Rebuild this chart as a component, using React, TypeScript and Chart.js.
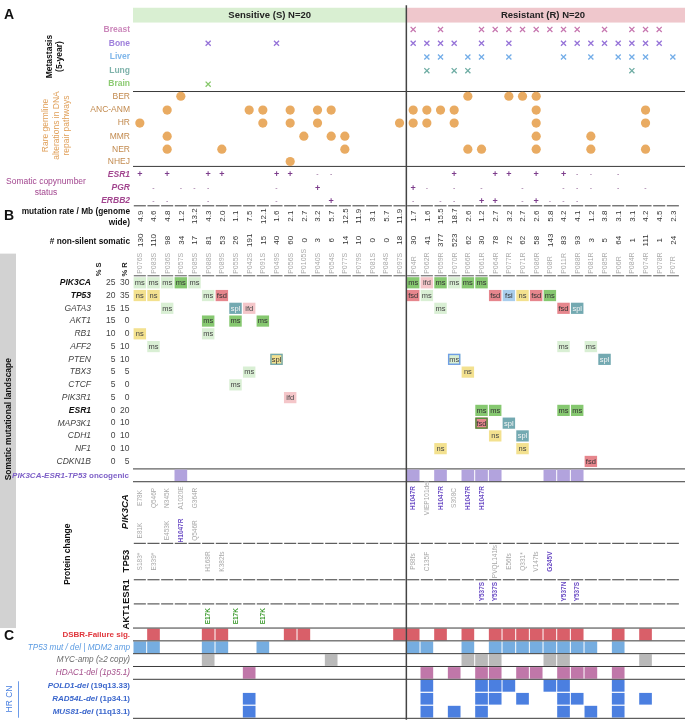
import React, { useEffect, useRef } from "react";
import { Chart, registerables } from "chart.js";
Chart.register(...registerables);

// ---------------- data ----------------
const sensitiveIds = ["P076S","P083S","P036S","P057S","P085S","P088S","P089S","P055S","P042S","P091S","P049S","P056S","P0105S","P040S","P054S","P077S","P079S","P081S","P084S","P097S"];
const resistantIds = ["P04R","P062R","P059R","P070R","P066R","P061R","P064R","P077R","P071R","P086R","P08R","P011R","P088R","P081R","P085R","P06R","P084R","P074R","P078R","P07R"];
const sampleIds = [...sensitiveIds, ...resistantIds];

const metastasisSites = ["Breast", "Bone", "Liver", "Lung", "Brain"];
const metBreast = [20,22,25,26,27,28,29,30,31,32,34,36,37,38];
const metBone = [5,10,20,21,22,23,25,27,31,32,33,34,35,36,37,38];
const metLiver = [21,22,24,25,27,31,33,35,36,37,39];
const metLung = [21,23,24,36];
const metBrain = [5];
const metastasisCols = [metBreast, metBone, metLiver, metLung, metBrain];

const germlinePathways = ["BER", "ANC-ANM", "HR", "MMR", "NER", "NHEJ"];
const germBER = [3,24,27,28,29];
const germANC = [2,8,9,11,13,14,20,21,22,23,29,37];
const germHR = [0,9,11,13,19,20,21,23,29,37];
const germMMR = [2,12,14,15,29,33];
const germNER = [2,6,15,24,25,29,33,37];
const germNHEJ = [11];
const germlineCols = [germBER, germANC, germHR, germMMR, germNER, germNHEJ];

const cnGenes = ["ESR1", "PGR", "ERBB2"];
const cnESR1 = "+.+..++...++.--....." + "...+..++.+.+--.-....";
const cnPGR = ".-.---....-..+......" + "+-.-.-..-..---.-.-..";
const cnERBB2 = ".--..-....-...+....." + "-.--.++.-+---.......";
const cnStatus = [cnESR1, cnPGR, cnERBB2];

const mutationRate = [4.9,4.6,4.8,1.2,13.2,4.3,2.0,1.1,7.5,12.1,1.6,2.1,2.7,3.2,5.7,12.5,11.9,3.1,5.7,11.9,
  1.7,1.6,15.5,18.7,2.6,1.2,2.7,3.2,2.7,2.6,5.8,4.2,4.1,1.2,3.8,3.1,3.1,4.2,4.5,2.3];
const nonSilent = [130,110,98,34,17,81,53,26,191,15,40,60,0,3,6,14,10,0,0,18,
  30,41,377,523,62,30,78,72,62,58,143,83,93,3,5,64,1,111,1,24];

const genes = ["PIK3CA","TP53","GATA3","AKT1","RB1","AFF2","PTEN","TBX3","CTCF","PIK3R1","ESR1","MAP3K1","CDH1","NF1","CDKN1B"];
const boldGenes = ["PIK3CA","TP53","ESR1"];
const pctS = [25,20,15,15,10,5,5,5,5,5,0,0,0,0,0];
const pctR = [30,35,15,0,0,10,10,5,0,0,20,10,10,10,5];
type Mut = [number, string];
const mutPIK3CA: Mut[] = [[0,"msl"],[1,"msl"],[2,"msl"],[3,"msd"],[4,"msl"],[20,"msd"],[21,"ifd"],[22,"msd"],[23,"msl"],[24,"msd"],[25,"msd"]];
const mutTP53: Mut[] = [[0,"ns"],[1,"ns"],[5,"msl"],[6,"fsd"],[20,"fsd"],[21,"msl"],[26,"fsd"],[27,"fsi"],[28,"ns"],[29,"fsd"],[30,"msd"]];
const mutGATA3: Mut[] = [[2,"msl"],[7,"spl"],[8,"ifd"],[22,"msl"],[31,"fsd"],[32,"spl"]];
const mutAKT1: Mut[] = [[5,"msd"],[7,"msd"],[9,"msd"]];
const mutRB1: Mut[] = [[0,"ns"],[5,"msl"]];
const mutAFF2: Mut[] = [[1,"msl"],[31,"msl"],[33,"msl"]];
const mutPTEN: Mut[] = [[10,"nsspl"],[23,"msfsi"],[34,"spl"]];
const mutTBX3: Mut[] = [[8,"msl"],[24,"ns"]];
const mutCTCF: Mut[] = [[7,"msl"]];
const mutPIK3R1: Mut[] = [[11,"ifd"]];
const mutESR1: Mut[] = [[25,"msd"],[26,"msd"],[31,"msd"],[32,"msd"]];
const mutMAP3K1: Mut[] = [[25,"fsdms"],[27,"spl"]];
const mutCDH1: Mut[] = [[26,"ns"],[28,"spl"]];
const mutNF1: Mut[] = [[22,"ns"],[28,"ns"]];
const mutCDKN1B: Mut[] = [[33,"fsd"]];
const mutations = [mutPIK3CA,mutTP53,mutGATA3,mutAKT1,mutRB1,mutAFF2,mutPTEN,mutTBX3,mutCTCF,mutPIK3R1,mutESR1,mutMAP3K1,mutCDH1,mutNF1,mutCDKN1B];

const oncogenicCols = [3,20,22,24,25,26,30,31,32];

type Prot = [number, string];
const protPIK3CAupper: Prot[] = [[0,"E78K"],[1,"Q546P"],[2,"N345K"],[3,"A1020E"],[4,"G364R"],[20,"H1047R"],[21,"VIEP101del"],[22,"H1047R"],[23,"S308C"],[24,"H1047R"],[25,"H1047R"]];
const protPIK3CAlower: Prot[] = [[0,"E81K"],[2,"E453K"],[3,"H1047R"],[4,"Q546R"]];
const protTP53: Prot[] = [[0,"S183*"],[1,"E339*"],[5,"H168R"],[6,"K382fs"],[20,"P98fs"],[21,"C135F"],[26,"PVQL141fs"],[27,"E56fs"],[28,"Q331*"],[29,"V147fs"],[30,"G245V"]];
const protESR1: Prot[] = [[25,"Y537S"],[26,"Y537S"],[31,"Y537N"],[32,"Y537S"]];
const protAKT1: Prot[] = [[5,"E17K"],[7,"E17K"],[9,"E17K"]];
const hotspots = ["H1047R","G245V","Y537S","Y537N"];

const dsbrFailure = [1,5,6,11,12,19,20,22,24,26,27,28,29,30,31,32,35,37];
const tp53MutDel = [0,1,5,6,9,20,21,24,26,27,28,29,30,31,32,33,35];
const mycAmp = [5,14,24,25,26,30,31,37];
const hdac1Del = [8,21,23,25,26,28,29,31,32,33,35];
const pold1Del = [21,25,26,27,30,31,35];
const rad54lDel = [8,21,25,26,28,31,32,35,37];
const mus81Del = [8,21,23,25,31,33,35];
const cnaRows = [dsbrFailure, tp53MutDel, mycAmp, hdac1Del, pold1Del, rad54lDel, mus81Del];

// ---------------- layout & style ----------------
const FAM = "'Liberation Sans', Arial, sans-serif";
const fnt = (size: number, weight = "normal", style = "normal") => `${style} ${weight} ${size}px ${FAM}`;
const metColors = ["#c777b0", "#9673d8", "#73ade8", "#6fada4", "#86c76a"];
const metLabelColors = ["#cc88bb", "#9f80dc", "#7fb6ea", "#7fb3ab", "#8dcb73"];
const metY = [24.5, 38.5, 52.5, 66.3, 80];
const germY = [92.3, 106.3, 119.5, 132.8, 146, 158.5];
const cnY = [171.7, 185, 198.3];
const geneY0 = 281.6, geneStep = 12.95;
const cnaBounds = [632, 645, 658, 671, 684, 697.2, 710.3, 723.4];
const cnaColors = ["#d95f69", "#76ade0", "#b9b9b9", "#c077a9", "#4b7fe0", "#4b7fe0", "#4b7fe0"];
const mutStyle: Record<string, { fill: string; label: string; text: string; border?: string }> = {
  msl: { fill: "#d9efd4", label: "ms", text: "#444" },
  msd: { fill: "#86c870", label: "ms", text: "#333" },
  ns: { fill: "#f3e18f", label: "ns", text: "#444" },
  fsd: { fill: "#e6868d", label: "fsd", text: "#333" },
  ifd: { fill: "#f4c6c9", label: "ifd", text: "#444" },
  spl: { fill: "#73a9b1", label: "spl", text: "#f4f4f4" },
  fsi: { fill: "#a9cdec", label: "fsi", text: "#333" },
  nsspl: { fill: "#f3e18f", label: "spl", text: "#333", border: "#73a9b1" },
  msfsi: { fill: "#d9efd4", label: "ms", text: "#444", border: "#6f9fe6" },
  fsdms: { fill: "#e6868d", label: "fsd", text: "#333", border: "#4f8f3a" },
};

function txt(ctx: CanvasRenderingContext2D, s: string, x: number, y: number, font: string, color: string,
  align: CanvasTextAlign = "right", base: CanvasTextBaseline = "middle", rot = 0) {
  ctx.save();
  ctx.translate(x, y);
  if (rot) ctx.rotate(rot);
  ctx.font = font; ctx.fillStyle = color; ctx.textAlign = align; ctx.textBaseline = base;
  ctx.fillText(s, 0, 0);
  ctx.restore();
}
type Part = [string, string, string];
function rich(ctx: CanvasRenderingContext2D, parts: Part[], xRight: number, y: number) {
  const w = parts.map(([t, f]) => { ctx.font = f; return ctx.measureText(t).width; });
  let x = xRight - w.reduce((a, b) => a + b, 0);
  parts.forEach(([t, f, c], i) => { txt(ctx, t, x, y, f, c, "left"); x += w[i]; });
}

const drawPlugin = {
  id: "oncoprint",
  beforeDatasetsDraw(chart: any) {
    const ctx: CanvasRenderingContext2D = chart.ctx;
    const xs = chart.scales.x, ys = chart.scales.y;
    const L = (c: number) => xs.getPixelForValue(c);
    const M = (c: number) => xs.getPixelForValue(c + 0.5);
    const Y = (v: number) => ys.getPixelForValue(v);
    const gx0 = L(0), gMid = L(20), gx1 = L(40);
    const W = chart.width;
    const hline = (y: number, color = "#3a3a3a", w = 1, x0 = gx0, x1 = W) => {
      ctx.save(); ctx.strokeStyle = color; ctx.lineWidth = w; ctx.beginPath();
      ctx.moveTo(x0, Y(y)); ctx.lineTo(x1, Y(y)); ctx.stroke(); ctx.restore();
    };
    const segline = (y: number, color = "#3a3a3a", w = 1) => {
      ctx.save(); ctx.strokeStyle = color; ctx.lineWidth = w; ctx.beginPath();
      for (let c = 0; c < 40; c++) { ctx.moveTo(L(c) + 0.8, Y(y)); ctx.lineTo(L(c + 1) - 0.8, Y(y)); }
      ctx.stroke(); ctx.restore();
    };

    // header
    ctx.fillStyle = "#d9efd2"; ctx.fillRect(gx0, Y(2.5), gMid - gx0, Y(17.5) - Y(2.5));
    ctx.fillStyle = "#efc7cc"; ctx.fillRect(gMid, Y(2.5), W - gMid, Y(17.5) - Y(2.5));
    txt(ctx, "Sensitive (S) N=20", (gx0 + gMid) / 2, Y(10.5), fnt(9.5, "bold"), "#222", "center");
    txt(ctx, "Resistant (R) N=20", (gMid + gx1) / 2, Y(10.5), fnt(9.5, "bold"), "#222", "center");

    // panel letters
    txt(ctx, "A", 4, Y(10), fnt(14, "bold"), "#111", "left");
    txt(ctx, "B", 4, Y(214), fnt(14, "bold"), "#111", "left");
    txt(ctx, "C", 4, Y(640), fnt(14, "bold"), "#111", "left");

    // metastasis
    metastasisSites.forEach((s, i) => txt(ctx, s, 130, Y(metY[i]), fnt(8.5, "bold"), metLabelColors[i]));
    txt(ctx, "Metastasis", 50, Y(52), fnt(8.5, "bold"), "#111", "center", "middle", -Math.PI / 2);
    txt(ctx, "(5-year)", 60, Y(52), fnt(8.5, "bold"), "#111", "center", "middle", -Math.PI / 2);
    hline(87.5);

    // germline
    germlinePathways.forEach((s, i) => txt(ctx, s, 130, Y(germY[i]), fnt(8.5), "#c28a4e"));
    ["Rare germline", "alterations in DNA", "repair pathways"].forEach((s, i) =>
      txt(ctx, s, 46 + i * 10.5, Y(122), fnt(8.5), "#e0a05a", "center", "middle", -Math.PI / 2));
    hline(163.5);

    // copy number
    cnGenes.forEach((g, i) => {
      txt(ctx, g, 130, Y(cnY[i]), fnt(8.5, "bold", "italic"), "#a2468f");
      const st = cnStatus[i];
      for (let c = 0; c < 40; c++) {
        if (st[c] === "+") txt(ctx, "+", M(c), Y(cnY[i]) + 0.5, fnt(9, "bold"), "#7d3d8c", "center");
        else if (st[c] === "-") txt(ctx, "-", M(c), Y(cnY[i]), fnt(7), "#8a5a8f", "center");
      }
    });
    txt(ctx, "Somatic copynumber", 46, Y(179), fnt(8.5), "#a2468f", "center");
    txt(ctx, "status", 46, Y(190.5), fnt(8.5), "#a2468f", "center");
    segline(203.5);

    // mutation rate / non-silent / ids
    txt(ctx, "mutation rate / Mb (genome", 130, Y(209.5), fnt(8.3, "bold"), "#111");
    txt(ctx, "wide)", 130, Y(221), fnt(8.3, "bold"), "#111");
    txt(ctx, "# non-silent somatic", 130, Y(240), fnt(8.3, "bold"), "#111");
    for (let c = 0; c < 40; c++) {
      txt(ctx, mutationRate[c].toFixed(1), M(c) + 0.5, Y(214), fnt(8), "#333", "center", "middle", -Math.PI / 2);
      txt(ctx, String(nonSilent[c]), M(c) + 0.5, Y(238.5), fnt(8), "#333", "center", "middle", -Math.PI / 2);
      txt(ctx, sampleIds[c], M(c) + 0.5, Y(272.5), fnt(7), "#a9a9a9", "left", "middle", -Math.PI / 2);
    }
    segline(274.5, "#555");

    // gray side bar
    ctx.fillStyle = "#d2d2d2"; ctx.fillRect(0, Y(252), 16, Y(632) - Y(252));
    txt(ctx, "Somatic mutational landscape", 8.5, Y(420), fnt(8.5, "bold"), "#111", "center", "middle", -Math.PI / 2);
    txt(ctx, "Protein change", 68, Y(557), fnt(8.5, "bold"), "#111", "center", "middle", -Math.PI / 2);

    // % headers
    txt(ctx, "% S", 99, Y(268), fnt(7.5, "bold"), "#222", "center", "middle", -Math.PI / 2);
    txt(ctx, "% R", 125, Y(268), fnt(7.5, "bold"), "#222", "center", "middle", -Math.PI / 2);

    // mutation matrix
    genes.forEach((g, i) => {
      const yc = Y(geneY0 + i * geneStep);
      const bold = boldGenes.includes(g);
      txt(ctx, g, 91, yc, fnt(8.5, bold ? "bold" : "normal", "italic"), bold ? "#111" : "#444");
      txt(ctx, String(pctS[i]), 115.5, yc, fnt(8.5), "#444");
      txt(ctx, String(pctR[i]), 129.5, yc, fnt(8.5), "#444");
      mutations[i].forEach(([c, t]) => {
        const st = mutStyle[t];
        const x0 = L(c) + 0.6, w = L(c + 1) - L(c) - 1.2, y0 = yc - 5.6, h = 11.2;
        ctx.fillStyle = st.fill; ctx.fillRect(x0, y0, w, h);
        if (st.border) { ctx.strokeStyle = st.border; ctx.lineWidth = 1.4; ctx.strokeRect(x0 + 0.7, y0 + 0.7, w - 1.4, h - 1.4); }
        txt(ctx, st.label, x0 + w / 2, yc + 0.3, fnt(7.5), st.text, "center");
      });
    });
    hline(470.5);

    // oncogenic
    rich(ctx, [["PIK3CA-ESR1-TP53", fnt(8, "bold", "italic"), "#7d5fc7"], [" oncogenic", fnt(8, "bold"), "#7d5fc7"]], 129, Y(477.3));
    oncogenicCols.forEach((c) => {
      ctx.fillStyle = "#b2a3dd"; ctx.fillRect(L(c) + 0.5, Y(471.2), L(c + 1) - L(c) - 1, Y(483) - Y(471.2));
    });
    hline(483.5);

    // protein change
    const protFont = (s: string) => hotspots.includes(s) ? fnt(6.5, "bold") : fnt(6.5);
    const protColor = (s: string) => hotspots.includes(s) ? "#6a4bc4" : "#a8a8a8";
    const drawProt = (list: Prot[], yc: number, green = false) => list.forEach(([c, s]) =>
      txt(ctx, s, M(c) + 0.5, Y(yc), green ? fnt(6.5, "bold") : protFont(s), green ? "#3d9a2e" : protColor(s), "center", "middle", -Math.PI / 2));
    drawProt(protPIK3CAupper, 500);
    drawProt(protPIK3CAlower, 533);
    drawProt(protTP53, 564.5);
    drawProt(protESR1, 595);
    drawProt(protAKT1, 620, true);
    txt(ctx, "PIK3CA", 125, Y(514), fnt(9.5, "bold", "italic"), "#111", "center", "middle", -Math.PI / 2);
    txt(ctx, "TP53", 126, Y(564), fnt(9.5, "bold"), "#111", "center", "middle", -Math.PI / 2);
    txt(ctx, "ESR1", 126, Y(595), fnt(9.5, "bold"), "#111", "center", "middle", -Math.PI / 2);
    txt(ctx, "AKT1", 126, Y(621), fnt(9.5, "bold"), "#111", "center", "middle", -Math.PI / 2);
    segline(546);
    segline(583);
    segline(607.5);

    // section C
    const cLabels: Part[][] = [
      [["DSBR-Failure sig.", fnt(8, "bold"), "#e0363c"]],
      [["TP53 mut / del | MDM2 amp", fnt(8.2, "normal", "italic"), "#5b9be2"]],
      [["MYC-amp (\u22652 copy)", fnt(8.2, "normal", "italic"), "#6a6a6a"]],
      [["HDAC1-del (1p35.1)", fnt(8.2, "normal", "italic"), "#a5508c"]],
      [["POLD1-del", fnt(8, "bold", "italic"), "#3a66cc"], [" (19q13.33)", fnt(8, "bold"), "#3a66cc"]],
      [["RAD54L-del", fnt(8, "bold", "italic"), "#3a66cc"], [" (1p34.1)", fnt(8, "bold"), "#3a66cc"]],
      [["MUS81-del", fnt(8, "bold", "italic"), "#3a66cc"], [" (11q13.1)", fnt(8, "bold"), "#3a66cc"]],
    ];
    cnaRows.forEach((cols, i) => {
      const top = cnaBounds[i], bot = cnaBounds[i + 1];
      rich(ctx, cLabels[i], 130, Y((top + bot) / 2));
      cols.forEach((c) => {
        ctx.fillStyle = cnaColors[i];
        ctx.fillRect(L(c) + 0.5, Y(top) + 0.6, L(c + 1) - L(c) - 1, Y(bot) - Y(top) - 1.2);
      });
    });
    [632, 645, 658, 671, 684].forEach((y) => hline(y, "#3a3a3a", 1));
    hline(723.6, "#3a3a3a", 1);
    txt(ctx, "HR CN", 10, Y(704), fnt(8.5), "#4a80e0", "center", "middle", -Math.PI / 2);
    ctx.strokeStyle = "#6d9be8"; ctx.lineWidth = 1;
    ctx.beginPath(); ctx.moveTo(18.5, Y(686)); ctx.lineTo(18.5, Y(723)); ctx.stroke();

    // divider
    ctx.strokeStyle = "#444"; ctx.lineWidth = 1.5;
    ctx.beginPath(); ctx.moveTo(gMid, Y(0)); ctx.lineTo(gMid, Y(725)); ctx.stroke();
  },
};

export default function App() {
  const ref = useRef<HTMLCanvasElement | null>(null);
  useEffect(() => {
    if (!ref.current) return;
    const datasets: any[] = [];
    metastasisCols.forEach((cols, i) => datasets.push({
      label: metastasisSites[i],
      data: cols.map((c) => ({ x: c + 0.5, y: metY[i] })),
      pointStyle: "crossRot", radius: 3.6, borderColor: metColors[i], borderWidth: 1.3, backgroundColor: metColors[i],
    }));
    germlineCols.forEach((cols, i) => datasets.push({
      label: germlinePathways[i],
      data: cols.map((c) => ({ x: c + 0.5, y: germY[i] })),
      pointStyle: "circle", radius: 4.6, borderWidth: 0, backgroundColor: "#e9ab62",
    }));
    const chart = new Chart(ref.current, {
      type: "scatter",
      data: { datasets },
      options: {
        animation: false, responsive: false, maintainAspectRatio: false,
        layout: { padding: { left: 133, right: 2, top: 0, bottom: 0 } },
        scales: {
          x: { type: "linear", min: 0, max: 40, display: false },
          y: { type: "linear", min: 0, max: 725, reverse: true, display: false },
        },
        plugins: { legend: { display: false }, tooltip: { enabled: false } },
      },
      plugins: [drawPlugin],
    });
    return () => chart.destroy();
  }, []);
  return (
    <div style={{ position: "absolute", left: 0, top: 0, width: 685, height: 725, background: "#fff" }}>
      <canvas ref={ref} width={685} height={725} style={{ width: 685, height: 725, display: "block" }} />
    </div>
  );
}
